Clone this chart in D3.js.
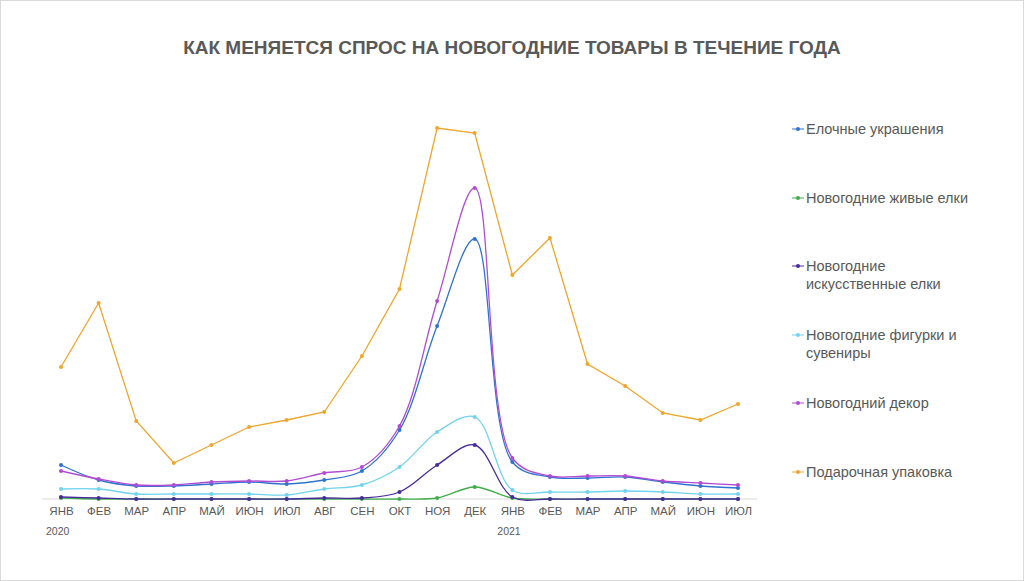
<!DOCTYPE html>
<html><head><meta charset="utf-8">
<script src="https://cdn.jsdelivr.net/npm/d3@7"></script>
<style>body{margin:0;background:#fff;font-family:Arial,"Liberation Sans",sans-serif;}</style>
</head><body>
<script>
const months = ["ЯНВ","ФЕВ","МАР","АПР","МАЙ","ИЮН","ИЮЛ","АВГ","СЕН","ОКТ","НОЯ","ДЕК","ЯНВ","ФЕВ","МАР","АПР","МАЙ","ИЮН","ИЮЛ"];
const years = [{i:0, label:"2020"}, {i:12, label:"2021"}];
const seriesNames = ["Елочные украшения","Новогодние живые елки","Новогодние искусственные елки","Новогодние фигурки и сувениры","Новогодний декор","Подарочная упаковка"];
const colors = ["#2f73cf","#3fae49","#472a9c","#72d3ee","#b04cd2","#f0a52c"];
const ornaments = [34,19,13,13,15,17,15,19,28,69,173,260,37,22,21,22,17,13,11];
const liveTrees = [1,0,0,0,0,0,0,0,0,0,1,12,1,0,0,0,0,0,0];
const artTrees  = [2,1,0,0,0,0,0,1,1,7,34,54,2,0,0,0,0,0,0];
const figurines = [10,10,5,5,5,5,4,10,14,32,67,82,9,7,7,8,7,5,5];
const decor     = [28,20,14,14,17,18,18,26,32,73,198,311,41,23,23,23,18,16,14];
const wrapping  = [132,196,78,36,54,72,79,87,143,210,371,366,224,261,135,113,86,79,95];
const seriesValues = [ornaments, liveTrees, artTrees, figurines, decor, wrapping];

const W = 1024, H = 581;
const svg = d3.select("body").append("svg").attr("width", W).attr("height", H);
svg.append("rect").attr("x",0.5).attr("y",0.5).attr("width",W-1).attr("height",H-1)
  .attr("fill","#fff").attr("stroke","#d9d9d9");

svg.append("text").attr("x",512).attr("y",54).attr("text-anchor","middle")
  .attr("font-size",19).attr("font-weight","bold").attr("fill","#595959")
  .text("КАК МЕНЯЕТСЯ СПРОС НА НОВОГОДНИЕ ТОВАРЫ В ТЕЧЕНИЕ ГОДА");

const x = d3.scalePoint().domain(d3.range(months.length)).range([61, 738]);
const y = d3.scaleLinear().domain([0, 380]).range([499, 119]);

svg.append("line").attr("x1",42).attr("x2",757).attr("y1",y(0)).attr("y2",y(0))
  .attr("stroke","#d9d9d9");

const xAxis = svg.append("g").attr("transform","translate(0,"+(y(0)+5)+")")
  .call(d3.axisBottom(x).tickSize(0).tickFormat(i => months[i]));
xAxis.select(".domain").remove();
xAxis.selectAll("text").attr("font-size",11.5).attr("fill","#595959").attr("font-family","Arial,'Liberation Sans',sans-serif");

svg.selectAll(".year").data(years).enter().append("text")
  .attr("x", d => x(d.i) - 15).attr("y", 535)
  .attr("font-size",10.5).attr("fill","#595959").text(d => d.label);

seriesValues.forEach((vals, s) => {
  const line = d3.line().x((d,i) => x(i)).y(d => y(d))
    .curve(s === 5 ? d3.curveLinear : d3.curveCatmullRom.alpha(0.5));
  svg.append("path").datum(vals).attr("d", line).attr("fill","none")
    .attr("stroke", colors[s]).attr("stroke-width",1.3);
  svg.selectAll(".m"+s).data(vals).enter().append("circle")
    .attr("cx",(d,i) => x(i)).attr("cy", d => y(d)).attr("r",2)
    .attr("fill", colors[s]);
});

const legendY = [129, 198, 266, 335, 403, 472];
seriesNames.forEach((name, s) => {
  const g = svg.append("g").attr("transform","translate(792,"+legendY[s]+")");
  g.append("line").attr("x1",0).attr("x2",12).attr("y1",0).attr("y2",0).attr("stroke",colors[s]);
  g.append("circle").attr("cx",6).attr("cy",0).attr("r",2).attr("fill",colors[s]);
  const words = name === "Новогодние искусственные елки" ? ["Новогодние","искусственные елки"]
    : name === "Новогодние фигурки и сувениры" ? ["Новогодние фигурки и","сувениры"] : [name];
  words.forEach((w, k) => g.append("text").attr("x",14).attr("y",5 + k*18)
    .attr("font-size",14.5).attr("fill","#595959").text(w));
});
</script>
</body></html>
